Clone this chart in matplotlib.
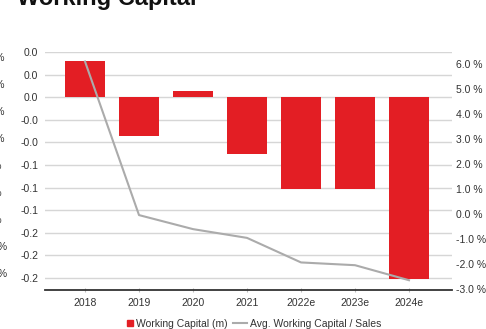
import matplotlib
matplotlib.use("Agg")
import matplotlib.pyplot as plt
from matplotlib.lines import Line2D
from matplotlib.patches import Rectangle
from matplotlib.legend_handler import HandlerPatch

plt.rcParams["font.family"] = ["Liberation Sans", "DejaVu Sans"]

# Data
years = ["2018", "2019", "2020", "2021", "2022e", "2023e", "2024e"]
working_capital = [0.040, -0.043, 0.0066, -0.063, -0.102, -0.102, -0.201]
wc_to_sales = [6.1, -0.03, -0.59, -0.94, -1.92, -2.03, -2.63]

left_ticks = [0.05, 0.025, 0.0, -0.025, -0.05, -0.075, -0.1, -0.125, -0.15, -0.175, -0.2]
left_labels = ["0.0", "0.0", "0.0", "-0.0", "-0.0", "-0.1", "-0.1", "-0.1", "-0.2", "-0.2", "-0.2"]
right_ticks = [-3, -2, -1, 0, 1, 2, 3, 4, 5, 6]

# right-hand labels of the neighbouring chart, mostly off the left edge
edge_labels = ["7.0 %", "6.0 %", "5.0 %", "4.0 %", "3.0 %", "2.0 %", "1.0 %", "-1.0 %", "-2.0 %"]
edge_label_y = [58, 85, 112, 139, 166, 193, 220, 247, 274]
edge_label_end = [5, 5, 5, 5, 1.5, 1.5, 1.5, 7.5, 7.5]

RED = "#E31E24"
GREY_LINE = "#ABABAB"
GRID = "#D6D6D6"
TEXT = "#333333"

W, H = 486, 329
fig = plt.figure(figsize=(W / 100, H / 100), dpi=100)
ax = fig.add_axes([45 / W, 1 - 290 / H, 407 / W, 238 / H])

x = list(range(len(years)))
ax.bar(x, working_capital, width=0.75, color=RED, zorder=2)
ax.set_xlim(-0.741, 6.796)
ax.set_ylim(-0.2133, 0.05)
ax.set_yticks(left_ticks)
ax.set_yticklabels(left_labels)
ax.yaxis.grid(True, color=GRID, linewidth=1)
ax.set_axisbelow(True)
ax.set_xticks(x)
ax.set_xticklabels(years)
ax.tick_params(axis="y", length=0, pad=5, labelsize=7.5, labelcolor=TEXT)
ax.tick_params(axis="x", length=3, direction="inout", color="#BBBBBB", pad=4.5,
               labelsize=7.5, labelcolor=TEXT)
for side in ["top", "left", "right"]:
    ax.spines[side].set_visible(False)
ax.spines["bottom"].set_color("#333333")
ax.spines["bottom"].set_linewidth(1.3)
ax.spines["bottom"].set_zorder(3)

ax2 = ax.twinx()
ax2.plot(x, wc_to_sales, color=GREY_LINE, linewidth=1.5)
ax2.set_ylim(-3.02, 6.48)
ax2.set_yticks(right_ticks)
ax2.set_yticklabels([f"{v:.1f} %" for v in right_ticks])
ax2.tick_params(axis="y", length=0, pad=3, labelsize=7.5, labelcolor=TEXT)
for side in ax2.spines:
    ax2.spines[side].set_visible(False)


def square_patch(legend, orig_handle, xdescent, ydescent, width, height, fontsize):
    sq = 0.6 * fontsize
    return Rectangle((width - xdescent - sq, -ydescent + (height - sq) / 2), sq, sq)


handles = [
    Rectangle((0, 0), 1, 1, color=RED),
    Line2D([], [], color=GREY_LINE, linewidth=1.5),
]
fig.legend(handles, ["Working Capital (m)", "Avg. Working Capital / Sales"],
           loc="center", bbox_to_anchor=(250.5 / W, 1 - 324 / H), ncol=2,
           frameon=False, fontsize=7.5, handlelength=1.35, handletextpad=0.3,
           columnspacing=0.5, labelcolor=TEXT,
           handler_map={Rectangle: HandlerPatch(patch_func=square_patch)})

fig.text(17 / W, 1 - 5 / H, "Working Capital", fontsize=17, fontweight="bold",
         va="baseline", ha="left", color="#111111")

for label, yy, xe in zip(edge_labels, edge_label_y, edge_label_end):
    fig.text(xe / W, 1 - yy / H, label, fontsize=7.5, color=TEXT,
             ha="right", va="center")

fig.savefig("out.png", dpi=100)
